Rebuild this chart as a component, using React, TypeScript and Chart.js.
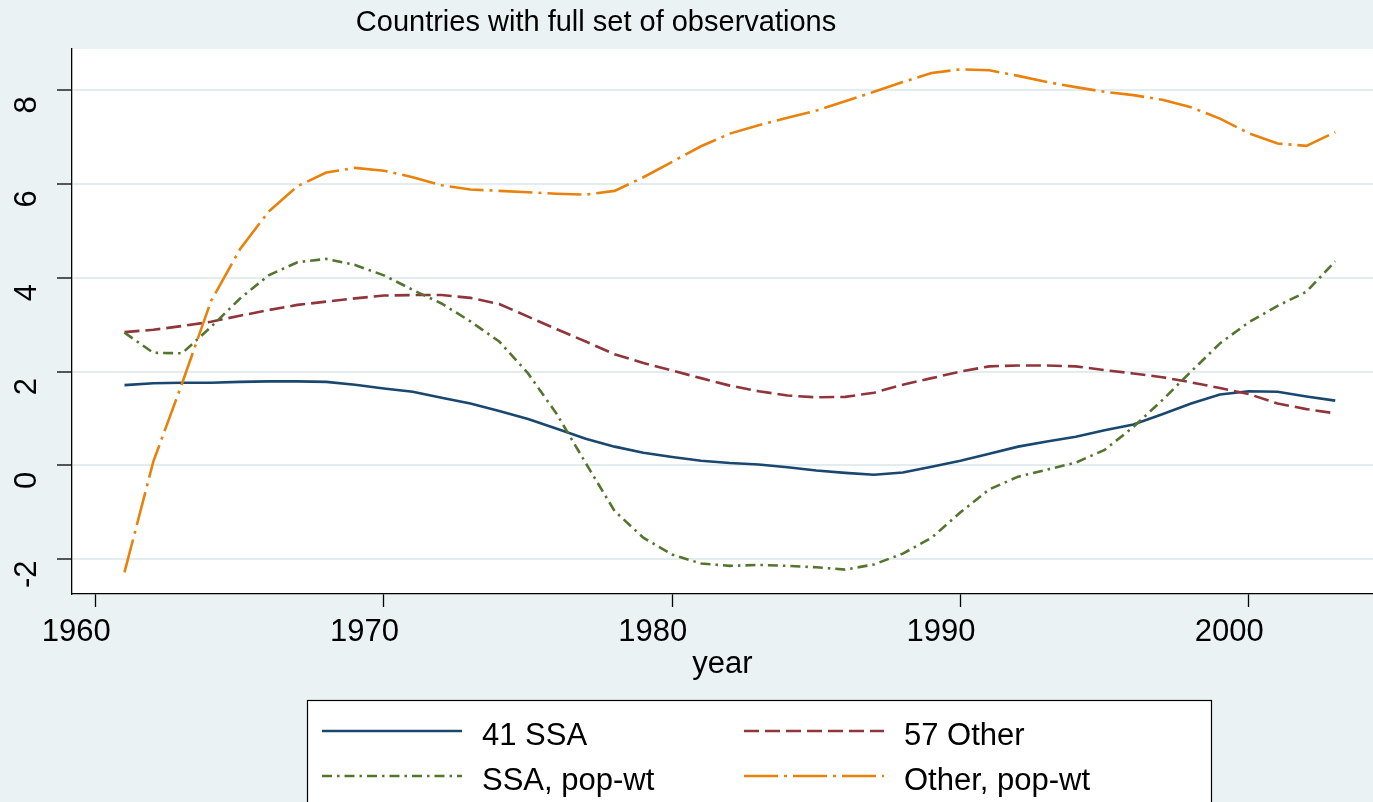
import { useEffect, useRef } from 'react';
import { Chart, registerables } from 'chart.js';

Chart.register(...registerables);

const YEARS = [
  1961, 1962, 1963, 1964, 1965, 1966, 1967, 1968, 1969, 1970,
  1971, 1972, 1973, 1974, 1975, 1976, 1977, 1978, 1979, 1980,
  1981, 1982, 1983, 1984, 1985, 1986, 1987, 1988, 1989, 1990,
  1991, 1992, 1993, 1994, 1995, 1996, 1997, 1998, 1999, 2000,
  2001, 2002, 2003,
];

const SSA_41 = [
  1.71, 1.75, 1.76, 1.76, 1.78, 1.79, 1.79, 1.78, 1.72, 1.64,
  1.57, 1.44, 1.32, 1.16, 0.99, 0.78, 0.57, 0.4, 0.27, 0.18,
  0.1, 0.05, 0.02, -0.04, -0.11, -0.16, -0.2, -0.15, -0.03, 0.1,
  0.25, 0.4, 0.51, 0.61, 0.75, 0.87, 1.09, 1.32, 1.51, 1.58,
  1.57, 1.47, 1.38,
];

const OTHER_57 = [
  2.84, 2.89, 2.97, 3.06, 3.19, 3.31, 3.42, 3.49, 3.56, 3.62,
  3.63, 3.63, 3.57, 3.44, 3.17, 2.9, 2.64, 2.37, 2.18, 2.02,
  1.86, 1.7, 1.58, 1.49, 1.45, 1.46, 1.55, 1.72, 1.86, 2.0,
  2.11, 2.13, 2.13, 2.11, 2.03, 1.96, 1.88, 1.77, 1.65, 1.52,
  1.32, 1.2, 1.11,
];

const SSA_POPWT = [
  2.83, 2.4, 2.39, 2.95, 3.55, 4.05, 4.33, 4.4, 4.27, 4.05,
  3.74, 3.45, 3.07, 2.64, 1.96, 1.09, 0.05, -0.97, -1.54, -1.9,
  -2.09, -2.14, -2.12, -2.14, -2.17, -2.22, -2.11, -1.88, -1.54, -1.0,
  -0.51, -0.24, -0.09, 0.06, 0.33, 0.82, 1.39, 2.0, 2.6, 3.05,
  3.4, 3.7, 4.35,
];

const OTHER_POPWT = [
  -2.28, 0.08, 1.75, 3.5, 4.6, 5.41, 5.95, 6.24, 6.34, 6.28,
  6.14, 5.97, 5.88, 5.85, 5.82, 5.79, 5.77, 5.85, 6.14, 6.47,
  6.8, 7.07, 7.25, 7.41, 7.56, 7.76, 7.96, 8.17, 8.36, 8.44,
  8.42, 8.3, 8.17, 8.06, 7.96, 7.89, 7.79, 7.63, 7.39, 7.08,
  6.86, 6.81, 7.1,
];

const SERIES_LABELS = ['41 SSA', '57 Other', 'SSA, pop-wt', 'Other, pop-wt'];
const X_TICKS = [1960, 1970, 1980, 1990, 2000];
const Y_TICKS = [-2, 0, 2, 4, 6, 8];
const X_RANGE = [1959.18, 2004.31];
const Y_RANGE = [-2.74, 8.873];
const TITLE = 'Countries with full set of observations';
const X_TITLE = 'year';

const FONT = '"Liberation Sans", Arial, Helvetica, sans-serif';
const BG = '#EAF2F3';

const toPoints = (vals: number[]) => vals.map((v, i) => ({ x: YEARS[i], y: v }));

const backgroundPlugin = {
  id: 'stataBackground',
  beforeDraw(chart: any) {
    const { ctx, chartArea, width, height } = chart;
    ctx.save();
    ctx.fillStyle = BG;
    ctx.fillRect(0, 0, width, height);
    ctx.fillStyle = '#FFFFFF';
    ctx.fillRect(chartArea.left, chartArea.top, chartArea.right - chartArea.left, chartArea.bottom - chartArea.top);
    ctx.restore();
  },
};

const decorPlugin = {
  id: 'stataDecor',
  afterDraw(chart: any) {
    const { ctx } = chart;
    ctx.save();
    // title
    ctx.fillStyle = '#000';
    ctx.font = `29px ${FONT}`;
    ctx.textAlign = 'center';
    ctx.textBaseline = 'middle';
    ctx.fillText(TITLE, 596, 23);

    // legend box
    ctx.fillStyle = '#FFFFFF';
    ctx.fillRect(307, 700, 904, 130);
    ctx.strokeStyle = '#000';
    ctx.lineWidth = 1.2;
    ctx.setLineDash([]);
    ctx.strokeRect(307.5, 700.5, 904, 130);

    const colX = [322, 744];
    const rowY = [731, 776];
    const baseY = [745, 790];
    chart.data.datasets.forEach((ds: any, i: number) => {
      const c = i % 2;
      const r = Math.floor(i / 2);
      ctx.beginPath();
      ctx.strokeStyle = ds.borderColor;
      ctx.lineWidth = ds.borderWidth;
      ctx.setLineDash(ds.borderDash || []);
      ctx.lineCap = 'butt';
      ctx.moveTo(colX[c], rowY[r]);
      ctx.lineTo(colX[c] + 140, rowY[r]);
      ctx.stroke();
      ctx.setLineDash([]);
      ctx.fillStyle = '#000';
      ctx.font = `31px ${FONT}`;
      ctx.textAlign = 'left';
      ctx.textBaseline = 'alphabetic';
      ctx.fillText(ds.label, colX[c] + 160, baseY[r]);
    });
    ctx.restore();
  },
};

export default function App() {
  const canvasRef = useRef<HTMLCanvasElement | null>(null);

  useEffect(() => {
    const canvas = canvasRef.current;
    if (!canvas) return;
    const chart = new Chart(canvas, {
      type: 'line',
      data: {
        datasets: [
          {
            label: SERIES_LABELS[0],
            data: toPoints(SSA_41),
            borderColor: '#1A476F',
            borderWidth: 2.6,
            borderDash: [],
            pointRadius: 0,
            tension: 0,
            order: 4,
          },
          {
            label: SERIES_LABELS[1],
            data: toPoints(OTHER_57),
            borderColor: '#90353B',
            borderWidth: 2.6,
            borderDash: [15, 6],
            pointRadius: 0,
            tension: 0,
            order: 3,
          },
          {
            label: SERIES_LABELS[2],
            data: toPoints(SSA_POPWT),
            borderColor: '#55752F',
            borderWidth: 2.6,
            borderDash: [10, 5, 2.5, 5],
            pointRadius: 0,
            tension: 0,
            order: 2,
          },
          {
            label: SERIES_LABELS[3],
            data: toPoints(OTHER_POPWT),
            borderColor: '#E8820C',
            borderWidth: 2.6,
            borderDash: [34, 6, 3, 6],
            pointRadius: 0,
            tension: 0,
            order: 1,
          },
        ],
      },
      options: {
        animation: false,
        responsive: false,
        devicePixelRatio: 1,
        layout: { padding: { top: 49, right: 0, bottom: 108, left: 0 } },
        plugins: {
          legend: { display: false },
          title: { display: false },
          tooltip: { enabled: false },
        },
        scales: {
          x: {
            type: 'linear',
            min: X_RANGE[0],
            max: X_RANGE[1],
            afterBuildTicks: (s: any) => {
              s.ticks = X_TICKS.map((v) => ({ value: v }));
            },
            afterFit: (s: any) => {
              s.height = 100;
            },
            ticks: {
              callback: (v: any) => String(v),
              autoSkip: false,
              minRotation: 0,
              maxRotation: 0,
              padding: 7,
              labelOffset: -19.5,
              color: '#000',
              font: { family: FONT, size: 31 },
            },
            grid: {
              drawOnChartArea: false,
              drawTicks: true,
              tickLength: 13,
              tickColor: '#000',
              tickWidth: 1.3,
            },
            border: { display: true, color: '#000', width: 1.3 },
            title: {
              display: true,
              text: X_TITLE,
              color: '#000',
              font: { family: FONT, size: 31 },
              padding: { top: 0, bottom: 11 },
            },
          },
          y: {
            type: 'linear',
            min: Y_RANGE[0],
            max: Y_RANGE[1],
            afterBuildTicks: (s: any) => {
              s.ticks = Y_TICKS.map((v) => ({ value: v }));
            },
            afterFit: (s: any) => {
              s.width = 72;
            },
            ticks: {
              callback: (v: any) => String(v),
              minRotation: 90,
              maxRotation: 90,
              crossAlign: 'center',
              padding: 16,
              labelOffset: 15,
              color: '#000',
              font: { family: FONT, size: 31 },
            },
            grid: {
              color: '#E3EDF0',
              lineWidth: 2,
              drawTicks: true,
              tickLength: 15,
              tickColor: '#000',
              tickWidth: 1.3,
            },
            border: { display: true, color: '#000', width: 1.3 },
          },
        },
      },
      plugins: [backgroundPlugin, decorPlugin],
    } as any);
    return () => chart.destroy();
  }, []);

  return (
    <div style={{ position: 'fixed', left: 0, top: 0, width: 1373, height: 802, background: BG, overflow: 'hidden' }}>
      <canvas ref={canvasRef} width={1373} height={802} style={{ display: 'block', width: 1373, height: 802 }} />
    </div>
  );
}
